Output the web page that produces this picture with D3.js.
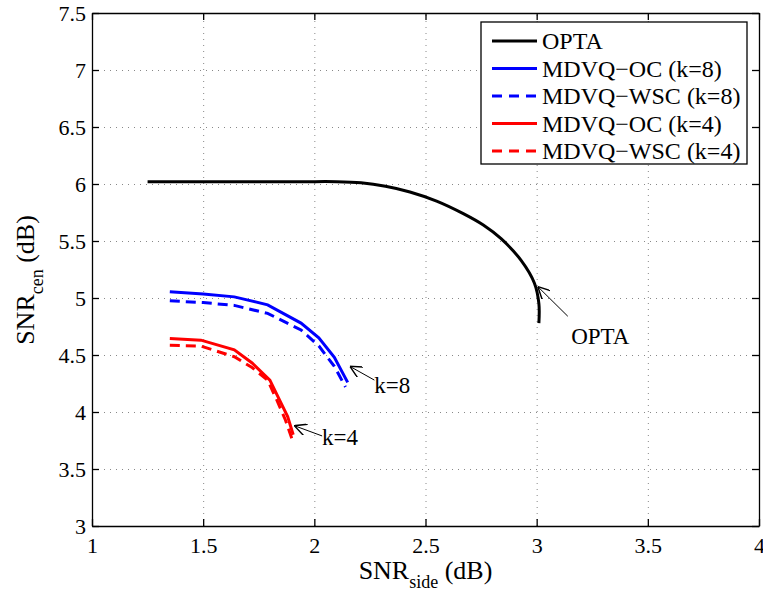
<!DOCTYPE html>
<html>
<head>
<meta charset="utf-8">
<script src="https://cdn.jsdelivr.net/npm/d3@7"></script>
<style>
  body { margin: 0; background: #fff; }
  svg { display: block; }
  text { font-family: "Liberation Serif", "Times New Roman", serif; fill: #000; }
  .grid line { stroke: #888; stroke-width: 1; stroke-dasharray: 1,5; }
  .grid path { display: none; }
  .axis path, .axis line { stroke: #000; stroke-width: 1.3; }
</style>
</head>
<body>
<div id="chart"></div>
<script>
// chart size
var svgWidth = 763;
var svgHeight = 594;

var margin = { top: 13, right: 4, bottom: 68, left: 92 };
var chartWidth = svgWidth - margin.left - margin.right;
var chartHeight = svgHeight - margin.top - margin.bottom;

// ticks
var xTicks = [1, 1.5, 2, 2.5, 3, 3.5, 4];
var yTicks = [3, 3.5, 4, 4.5, 5, 5.5, 6, 6.5, 7, 7.5];

// series (SNR side, SNR central)
var optaX = [1.25, 1.6, 1.94, 2.1, 2.21, 2.32, 2.43, 2.55, 2.67, 2.76, 2.84, 2.93, 2.99, 3.01, 3.01];
var optaY = [6.02, 6.02, 6.02, 6.02, 6.01, 5.98, 5.93, 5.85, 5.74, 5.64, 5.52, 5.33, 5.13, 4.95, 4.78];

var oc8X = [1.35, 1.5, 1.64, 1.79, 1.94, 2.02, 2.09, 2.15];
var oc8Y = [5.055, 5.035, 5.01, 4.94, 4.78, 4.65, 4.48, 4.26];

var wsc8X = [1.35, 1.5, 1.64, 1.79, 1.94, 2.02, 2.09, 2.14];
var wsc8Y = [4.975, 4.96, 4.935, 4.865, 4.72, 4.58, 4.40, 4.22];

var oc4X = [1.35, 1.49, 1.64, 1.72, 1.80, 1.84, 1.88, 1.905];
var oc4Y = [4.645, 4.63, 4.545, 4.43, 4.28, 4.12, 3.96, 3.80];

var wsc4X = [1.35, 1.49, 1.64, 1.72, 1.79, 1.83, 1.87, 1.90];
var wsc4Y = [4.585, 4.578, 4.485, 4.39, 4.28, 4.11, 3.93, 3.76];

var seriesNames = ["OPTA", "MDVQ\u2212OC (k=8)", "MDVQ\u2212WSC (k=8)", "MDVQ\u2212OC (k=4)", "MDVQ\u2212WSC (k=4)"];
var seriesColors = ["#000000", "#0000ff", "#0000ff", "#ff0000", "#ff0000"];
var seriesDashed = [false, false, true, false, true];
var seriesX = [optaX, oc8X, wsc8X, oc4X, wsc4X];
var seriesY = [optaY, oc8Y, wsc8Y, oc4Y, wsc4Y];

// annotations: label, arrow head (data), arrow tail (data), text position (data)
var noteLabels = ["OPTA", "k=8", "k=4"];
var noteHead = [[3.005, 5.1], [2.16, 4.40], [1.91, 3.88]];
var noteTail = [[3.14, 4.84], [2.27, 4.28], [2.035, 3.79]];
var noteText = [[3.155, 4.6], [2.27, 4.17], [2.035, 3.71]];

var svg = d3.select("#chart")
  .append("svg")
  .attr("width", svgWidth)
  .attr("height", svgHeight);

var chartGroup = svg.append("g")
  .attr("transform", `translate(${margin.left}, ${margin.top})`);

var xScale = d3.scaleLinear().domain([1, 4]).range([0, chartWidth]);
var yScale = d3.scaleLinear().domain([3, 7.5]).range([chartHeight, 0]);

// grids
chartGroup.append("g")
  .attr("class", "grid")
  .attr("transform", `translate(0, ${chartHeight})`)
  .call(d3.axisBottom(xScale).tickValues(xTicks.slice(1, -1)).tickSize(-chartHeight).tickFormat(""));

chartGroup.append("g")
  .attr("class", "grid")
  .call(d3.axisLeft(yScale).tickValues(yTicks.slice(1, -1)).tickSize(-chartWidth).tickFormat(""));

// lines - OPTA is a smooth bound, the quantizer curves are piecewise linear
var drawLine = d3.line()
  .x(d => xScale(d[0]))
  .y(d => yScale(d[1]));
var drawSmooth = d3.line()
  .x(d => xScale(d[0]))
  .y(d => yScale(d[1]))
  .curve(d3.curveCatmullRom.alpha(0.5));

seriesNames.forEach(function(name, i) {
  var pts = seriesX[i].map((x, j) => [x, seriesY[i][j]]);
  chartGroup.append("path")
    .attr("d", i === 0 ? drawSmooth(pts) : drawLine(pts))
    .attr("fill", "none")
    .attr("stroke", seriesColors[i])
    .attr("stroke-width", 3)
    .attr("stroke-dasharray", seriesDashed[i] ? "10,6" : null);
});

// axes (ticks point inward, box on)
var tickLen = 7;
chartGroup.append("g")
  .attr("class", "axis")
  .attr("transform", `translate(0, ${chartHeight})`)
  .call(d3.axisBottom(xScale).tickValues(xTicks).tickSizeInner(-tickLen).tickSizeOuter(0).tickPadding(11).tickFormat(d3.format("")))
  .call(g => g.selectAll("text").attr("font-size", "22px").attr("font-family", "Liberation Serif"));

chartGroup.append("g")
  .attr("class", "axis")
  .call(d3.axisTop(xScale).tickValues(xTicks).tickSizeInner(-tickLen).tickSizeOuter(0).tickFormat(""));

chartGroup.append("g")
  .attr("class", "axis")
  .call(d3.axisLeft(yScale).tickValues(yTicks).tickSizeInner(-tickLen).tickSizeOuter(0).tickPadding(6).tickFormat(d3.format("")))
  .call(g => g.selectAll("text").attr("font-size", "22px").attr("font-family", "Liberation Serif"));

chartGroup.append("g")
  .attr("class", "axis")
  .attr("transform", `translate(${chartWidth}, 0)`)
  .call(d3.axisRight(yScale).tickValues(yTicks).tickSizeInner(-tickLen).tickSizeOuter(0).tickFormat(""));

// annotations
svg.append("defs").append("marker")
  .attr("id", "arrow")
  .attr("viewBox", "0 0 10 10")
  .attr("refX", 10).attr("refY", 5)
  .attr("markerWidth", 12).attr("markerHeight", 12)
  .attr("markerUnits", "userSpaceOnUse")
  .attr("orient", "auto")
  .append("path")
  .attr("d", "M0,0 L10,5 L0,10")
  .attr("fill", "none")
  .attr("stroke", "#000")
  .attr("stroke-width", 1.2);

noteLabels.forEach(function(label, i) {
  chartGroup.append("line")
    .attr("x1", xScale(noteTail[i][0])).attr("y1", yScale(noteTail[i][1]))
    .attr("x2", xScale(noteHead[i][0])).attr("y2", yScale(noteHead[i][1]))
    .attr("stroke", "#000")
    .attr("stroke-width", 1)
    .attr("marker-end", "url(#arrow)");
  chartGroup.append("text")
    .attr("x", xScale(noteText[i][0]))
    .attr("y", yScale(noteText[i][1]))
    .attr("font-size", "23px")
    .text(label);
});

// legend
var legend = chartGroup.append("g")
  .attr("transform", `translate(${481 - margin.left}, ${22 - margin.top})`);

legend.append("rect")
  .attr("width", 266)
  .attr("height", 142)
  .attr("fill", "#fff")
  .attr("stroke", "#000")
  .attr("stroke-width", 1.3);

seriesNames.forEach(function(name, i) {
  var row = legend.append("g").attr("transform", `translate(0, ${19 + i * 27.5})`);
  row.append("line")
    .attr("x1", 11).attr("x2", 56)
    .attr("stroke", seriesColors[i])
    .attr("stroke-width", 3)
    .attr("stroke-dasharray", seriesDashed[i] ? "10,7" : null);
  row.append("text")
    .attr("x", 61)
    .attr("dy", "0.35em")
    .attr("font-size", "24px")
    .text(name);
});

// axis labels
var xLabel = svg.append("text")
  .attr("x", margin.left + chartWidth / 2)
  .attr("y", 579)
  .attr("text-anchor", "middle")
  .attr("font-size", "26px");
xLabel.append("tspan").text("SNR");
xLabel.append("tspan").attr("font-size", "18px").attr("dy", 9).text("side");
xLabel.append("tspan").attr("dy", -9).text(" (dB)");

var yLabel = svg.append("text")
  .attr("transform", "translate(34, 280) rotate(-90)")
  .attr("text-anchor", "middle")
  .attr("font-size", "26px");
yLabel.append("tspan").text("SNR");
yLabel.append("tspan").attr("font-size", "18px").attr("dy", 9).text("cen");
yLabel.append("tspan").attr("dy", -9).text(" (dB)");
</script>
</body>
</html>
